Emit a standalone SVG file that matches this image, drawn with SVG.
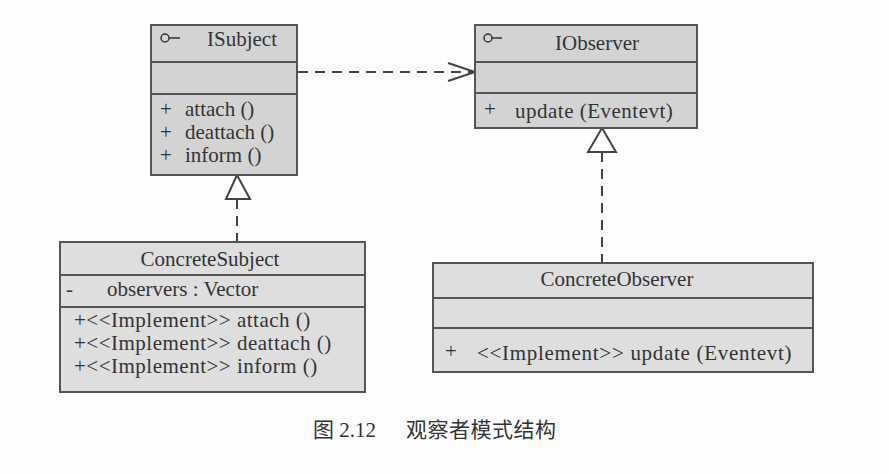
<svg xmlns="http://www.w3.org/2000/svg" width="889" height="474" viewBox="0 0 889 474">
<style>
.box{stroke:#555;stroke-width:2}
.iface{fill:#d3d3d3}
.conc{fill:#dedede}
.sep{stroke:#555;stroke-width:2}
.t{font-family:"Liberation Serif","Times New Roman",serif;font-size:21px;fill:#333}
.w{letter-spacing:0.5px}
.c{text-anchor:middle}
.dash{stroke:#444;stroke-width:2;fill:none;stroke-dasharray:10 7}
.tri{fill:#fff;stroke:#444;stroke-width:2}
.cap{font-family:"Liberation Serif","Noto Sans CJK SC",serif;font-size:21px;fill:#333}
</style>
<rect width="889" height="474" fill="#fdfdfd"/>

<g id="connectors">
<line class="dash" x1="298" y1="72" x2="473" y2="72" stroke-dasharray="25 13"/>
<polyline points="448,63 475,72 448,81" fill="none" stroke="#444" stroke-width="2"/>
<line class="dash" x1="237" y1="199" x2="237" y2="242"/>
<polygon class="tri" points="237,175 226,199 250,199"/>
<line class="dash" x1="602" y1="152" x2="602" y2="263"/>
<polygon class="tri" points="602,128 588,152 616,152"/>
</g>

<g id="ISubject">
<rect class="box iface" x="151" y="25" width="146" height="150"/>
<line class="sep" x1="151" y1="62" x2="297" y2="62"/>
<line class="sep" x1="151" y1="94" x2="297" y2="94"/>
<circle cx="165" cy="38" r="4" fill="none" stroke="#333" stroke-width="1.5"/>
<line x1="169" y1="38" x2="180" y2="38" stroke="#333" stroke-width="1.5"/>
<text class="t" x="207" y="46">ISubject</text>
<text class="t" x="160" y="116">+</text>
<text class="t" x="185" y="116">attach ()</text>
<text class="t" x="160" y="139">+</text>
<text class="t" x="185" y="139">deattach ()</text>
<text class="t" x="160" y="162">+</text>
<text class="t" x="185" y="162">inform ()</text>
</g>

<g id="IObserver">
<rect class="box iface" x="475" y="25" width="222" height="103"/>
<line class="sep" x1="475" y1="62" x2="697" y2="62"/>
<line class="sep" x1="475" y1="93" x2="697" y2="93"/>
<circle cx="488" cy="38" r="4" fill="none" stroke="#333" stroke-width="1.5"/>
<line x1="492" y1="38" x2="502" y2="38" stroke="#333" stroke-width="1.5"/>
<text class="t c" x="597" y="50">IObserver</text>
<text class="t" x="484" y="116">+</text>
<text class="t w" x="515" y="118">update (Eventevt)</text>
</g>

<g id="ConcreteSubject">
<rect class="box conc" x="60" y="242" width="305" height="150"/>
<line class="sep" x1="60" y1="275" x2="365" y2="275"/>
<line class="sep" x1="60" y1="307" x2="365" y2="307"/>
<text class="t c" x="210" y="266">ConcreteSubject</text>
<text class="t" x="66" y="296">-</text>
<text class="t" x="107" y="296">observers : Vector</text>
<text class="t w" x="74" y="327">+&lt;&lt;Implement&gt;&gt; attach ()</text>
<text class="t w" x="74" y="350">+&lt;&lt;Implement&gt;&gt; deattach ()</text>
<text class="t w" x="74" y="373">+&lt;&lt;Implement&gt;&gt; inform ()</text>
</g>

<g id="ConcreteObserver">
<rect class="box conc" x="433" y="263" width="380" height="109"/>
<line class="sep" x1="433" y1="298" x2="813" y2="298"/>
<line class="sep" x1="433" y1="328" x2="813" y2="328"/>
<text class="t c" x="617" y="286">ConcreteObserver</text>
<text class="t" x="445" y="358">+</text>
<text class="t" x="477" y="360" style="letter-spacing:0.7px">&lt;&lt;Implement&gt;&gt; update (Eventevt)</text>
</g>

<text class="cap" x="313" y="437">图 2.12</text>
<text class="cap" x="406" y="437" style="letter-spacing:0.5px">观察者模式结构</text>
</svg>
